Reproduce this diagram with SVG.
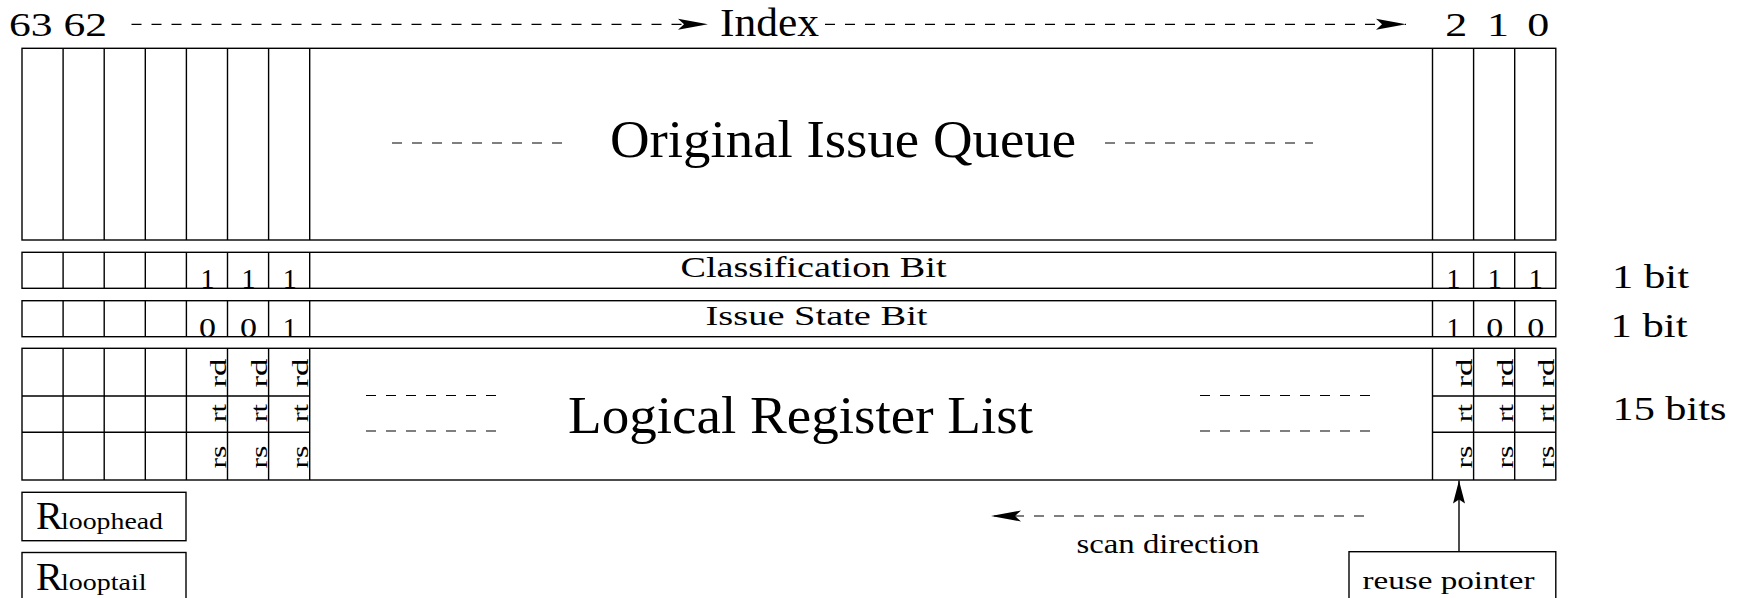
<svg xmlns="http://www.w3.org/2000/svg" width="1740" height="598" viewBox="0 0 1740 598">
<style>
  .ln { fill: none; stroke: #000; stroke-width: 1.4; }
  .dash { fill: none; stroke: #000; stroke-width: 1.2; stroke-dasharray: 10 10; }
  .t { font-family: "Liberation Serif", "Times New Roman", serif; fill: #000; }
</style>
<defs>
  <marker id="ahIdx" markerUnits="userSpaceOnUse" viewBox="-31 -7 32 14" markerWidth="32" markerHeight="14" refX="0" refY="0" orient="auto">
    <path d="M0,0 L-30,-5.5 L-24,0 L-30,5.5 Z" fill="#000"/>
  </marker>
  <marker id="ahUp" markerUnits="userSpaceOnUse" viewBox="-25 -7 26 14" markerWidth="26" markerHeight="14" refX="0" refY="0" orient="auto">
    <path d="M0,0 L-23,-6 L-19,0 L-23,6 Z" fill="#000"/>
  </marker>
</defs>
<rect width="1740" height="598" fill="#fff"/>

<g id="index-header">
  <text class="t" x="9" y="36" font-size="34.5" textLength="98" lengthAdjust="spacingAndGlyphs">63 62</text>
  <text class="t" x="720" y="36" font-size="39" textLength="99" lengthAdjust="spacingAndGlyphs">Index</text>
  <text class="t" x="1456.2" y="36" font-size="34.5" text-anchor="middle" textLength="22" lengthAdjust="spacingAndGlyphs">2</text>
  <text class="t" x="1497.9" y="36" font-size="34.5" text-anchor="middle" textLength="22" lengthAdjust="spacingAndGlyphs">1</text>
  <text class="t" x="1538.3" y="36" font-size="34.5" text-anchor="middle" textLength="22" lengthAdjust="spacingAndGlyphs">0</text>
</g>

<g id="issue-queue">
  <rect class="ln" x="22" y="48.3" width="1533.8" height="191.7"/>
  <path class="ln" d="M63.1,48.3V240 M104.2,48.3V240 M145.3,48.3V240 M186.4,48.3V240 M227.5,48.3V240 M268.6,48.3V240 M309.7,48.3V240 M1432.5,48.3V240 M1473.6,48.3V240 M1514.7,48.3V240"/>
  <path class="dash" d="M392,143H571 M1105,143H1313"/>
  <text class="t" x="610" y="157" font-size="52" textLength="466" lengthAdjust="spacingAndGlyphs">Original Issue Queue</text>
</g>

<g id="classification-row">
  <rect class="ln" x="22" y="252.3" width="1533.8" height="36"/>
  <path class="ln" d="M63.1,252.3V288.3 M104.2,252.3V288.3 M145.3,252.3V288.3 M186.4,252.3V288.3 M227.5,252.3V288.3 M268.6,252.3V288.3 M309.7,252.3V288.3 M1432.5,252.3V288.3 M1473.6,252.3V288.3 M1514.7,252.3V288.3"/>
  <text class="t" x="680.5" y="276.7" font-size="28.7" textLength="266" lengthAdjust="spacingAndGlyphs">Classification Bit</text>
  <g class="t" font-size="28" text-anchor="middle">
    <text x="207.5" y="288">1</text>
    <text x="248.6" y="288">1</text>
    <text x="289.7" y="288">1</text>
    <text x="1453.6" y="288">1</text>
    <text x="1494.7" y="288">1</text>
    <text x="1535.8" y="288">1</text>
  </g>
</g>

<g id="issue-state-row">
  <rect class="ln" x="22" y="300.7" width="1533.8" height="36"/>
  <path class="ln" d="M63.1,300.7V336.7 M104.2,300.7V336.7 M145.3,300.7V336.7 M186.4,300.7V336.7 M227.5,300.7V336.7 M268.6,300.7V336.7 M309.7,300.7V336.7 M1432.5,300.7V336.7 M1473.6,300.7V336.7 M1514.7,300.7V336.7"/>
  <text class="t" x="705.5" y="325" font-size="28" textLength="222" lengthAdjust="spacingAndGlyphs">Issue State Bit</text>
  <g class="t" font-size="28" text-anchor="middle">
    <text x="207.5" y="336.5" textLength="17" lengthAdjust="spacingAndGlyphs">0</text>
    <text x="248.6" y="336.5" textLength="17" lengthAdjust="spacingAndGlyphs">0</text>
    <text x="289.7" y="336.5">1</text>
    <text x="1453.6" y="336.5">1</text>
    <text x="1494.7" y="336.5" textLength="17" lengthAdjust="spacingAndGlyphs">0</text>
    <text x="1535.8" y="336.5" textLength="17" lengthAdjust="spacingAndGlyphs">0</text>
  </g>
</g>

<g id="register-list">
  <rect class="ln" x="22" y="348.3" width="1533.8" height="131.7"/>
  <path class="ln" d="M63.1,348.3V480 M104.2,348.3V480 M145.3,348.3V480 M186.4,348.3V480 M227.5,348.3V480 M268.6,348.3V480 M309.7,348.3V480 M1432.5,348.3V480 M1473.6,348.3V480 M1514.7,348.3V480 M22,396H309.7 M22,432.3H309.7 M1432.5,396H1555.8 M1432.5,432.3H1555.8"/>
  <path class="dash" d="M366,395.5H503 M366,431H503 M1200,395.5H1380 M1200,431H1380"/>
  <text class="t" x="568" y="433" font-size="52" textLength="465" lengthAdjust="spacingAndGlyphs">Logical Register List</text>
  <g class="t" font-size="23" text-anchor="middle">
    <text transform="translate(225.5,373) rotate(-90)" textLength="29" lengthAdjust="spacingAndGlyphs">rd</text>
    <text transform="translate(225.5,413) rotate(-90)" textLength="18" lengthAdjust="spacingAndGlyphs">rt</text>
    <text transform="translate(225.5,457) rotate(-90)" textLength="23" lengthAdjust="spacingAndGlyphs">rs</text>
    <text transform="translate(266.6,373) rotate(-90)" textLength="29" lengthAdjust="spacingAndGlyphs">rd</text>
    <text transform="translate(266.6,413) rotate(-90)" textLength="18" lengthAdjust="spacingAndGlyphs">rt</text>
    <text transform="translate(266.6,457) rotate(-90)" textLength="23" lengthAdjust="spacingAndGlyphs">rs</text>
    <text transform="translate(307.7,373) rotate(-90)" textLength="29" lengthAdjust="spacingAndGlyphs">rd</text>
    <text transform="translate(307.7,413) rotate(-90)" textLength="18" lengthAdjust="spacingAndGlyphs">rt</text>
    <text transform="translate(307.7,457) rotate(-90)" textLength="23" lengthAdjust="spacingAndGlyphs">rs</text>
    <text transform="translate(1471.6,373) rotate(-90)" textLength="29" lengthAdjust="spacingAndGlyphs">rd</text>
    <text transform="translate(1471.6,413) rotate(-90)" textLength="18" lengthAdjust="spacingAndGlyphs">rt</text>
    <text transform="translate(1471.6,457) rotate(-90)" textLength="23" lengthAdjust="spacingAndGlyphs">rs</text>
    <text transform="translate(1512.7,373) rotate(-90)" textLength="29" lengthAdjust="spacingAndGlyphs">rd</text>
    <text transform="translate(1512.7,413) rotate(-90)" textLength="18" lengthAdjust="spacingAndGlyphs">rt</text>
    <text transform="translate(1512.7,457) rotate(-90)" textLength="23" lengthAdjust="spacingAndGlyphs">rs</text>
    <text transform="translate(1553.8,373) rotate(-90)" textLength="29" lengthAdjust="spacingAndGlyphs">rd</text>
    <text transform="translate(1553.8,413) rotate(-90)" textLength="18" lengthAdjust="spacingAndGlyphs">rt</text>
    <text transform="translate(1553.8,457) rotate(-90)" textLength="23" lengthAdjust="spacingAndGlyphs">rs</text>
  </g>
</g>

<g id="bit-widths">
  <text class="t" x="1612" y="288.3" font-size="33" textLength="77" lengthAdjust="spacingAndGlyphs">1 bit</text>
  <text class="t" x="1610.5" y="336.7" font-size="33" textLength="77" lengthAdjust="spacingAndGlyphs">1 bit</text>
  <text class="t" x="1612.5" y="420" font-size="34.5" textLength="114" lengthAdjust="spacingAndGlyphs">15 bits</text>
</g>

<g id="rloophead">
  <rect class="ln" x="22" y="492.3" width="164" height="48.4"/>
  <text class="t" x="36" y="529.3" font-size="40">R</text>
  <text class="t" x="61" y="529.3" font-size="23.5" textLength="102" lengthAdjust="spacingAndGlyphs">loophead</text>
</g>

<g id="rlooptail">
  <rect class="ln" x="22" y="552.5" width="164" height="60"/>
  <text class="t" x="36" y="590" font-size="40">R</text>
  <text class="t" x="61" y="590" font-size="23.5" textLength="85.5" lengthAdjust="spacingAndGlyphs">looptail</text>
</g>

<g id="scan-direction">
  <text class="t" x="1076.5" y="552.7" font-size="26.5" textLength="183" lengthAdjust="spacingAndGlyphs">scan direction</text>
</g>

<g id="reuse-pointer">
  <rect class="ln" x="1349" y="551.7" width="206.8" height="60"/>
  <text class="t" x="1362.5" y="588.5" font-size="26" textLength="172" lengthAdjust="spacingAndGlyphs">reuse pointer</text>
</g>

<g id="connectors">
  <path class="dash" d="M131.5,24.3H708" marker-end="url(#ahIdx)"/>
  <path class="dash" d="M825,24.3H1406" marker-end="url(#ahIdx)"/>
  <path class="dash" d="M1364,516H991" marker-end="url(#ahIdx)"/>
  <path class="ln" d="M1459,551.7V480.5" marker-end="url(#ahUp)"/>
</g>
</svg>
